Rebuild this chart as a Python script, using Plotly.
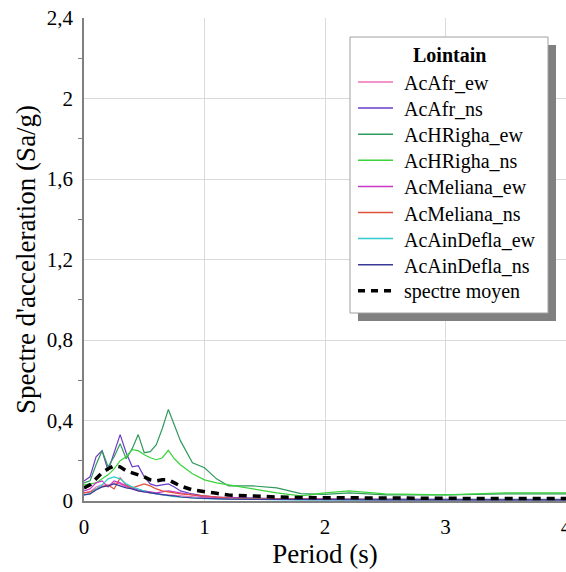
import plotly.graph_objects as go

# Response spectra, far-field records ("Lointain"), 5 % damping
period = [0, 0.05, 0.1, 0.15, 0.2, 0.25, 0.3, 0.35, 0.4, 0.45, 0.5, 0.55, 0.6, 0.65,
          0.7, 0.75, 0.8, 0.9, 1.0, 1.1, 1.2, 1.4, 1.6, 1.8, 2.0, 2.2, 2.5, 3.0, 3.5, 4.0]

acafr_ew = [0.04, 0.045, 0.07, 0.08, 0.075, 0.09, 0.085, 0.07, 0.06, 0.05, 0.045, 0.04, 0.035, 0.03,
            0.03, 0.028, 0.025, 0.02, 0.015, 0.012, 0.011, 0.01, 0.009, 0.008, 0.008, 0.007, 0.007, 0.006, 0.006, 0.006]
acafr_ns = [0.10, 0.12, 0.22, 0.25, 0.15, 0.24, 0.33, 0.24, 0.17, 0.175, 0.12, 0.085, 0.075, 0.08,
            0.085, 0.07, 0.05, 0.035, 0.025, 0.02, 0.018, 0.015, 0.012, 0.012, 0.01, 0.01, 0.009, 0.008, 0.008, 0.008]
achrigha_ew = [0.09, 0.10, 0.18, 0.25, 0.17, 0.22, 0.285, 0.21, 0.26, 0.33, 0.24, 0.245, 0.28, 0.36,
               0.455, 0.38, 0.30, 0.19, 0.165, 0.11, 0.075, 0.075, 0.065, 0.037, 0.033, 0.04, 0.03, 0.03, 0.035, 0.035]
achrigha_ns = [0.08, 0.085, 0.09, 0.11, 0.13, 0.16, 0.20, 0.22, 0.255, 0.25, 0.23, 0.215, 0.205, 0.215,
               0.252, 0.21, 0.18, 0.135, 0.105, 0.09, 0.08, 0.06, 0.04, 0.025, 0.04, 0.05, 0.035, 0.03, 0.04, 0.04]
acmeliana_ew = [0.05, 0.06, 0.09, 0.10, 0.07, 0.10, 0.09, 0.075, 0.065, 0.055, 0.05, 0.045, 0.04, 0.045,
                0.05, 0.045, 0.04, 0.03, 0.02, 0.018, 0.015, 0.012, 0.01, 0.009, 0.008, 0.008, 0.007, 0.007, 0.006, 0.006]
acmeliana_ns = [0.04, 0.045, 0.06, 0.07, 0.08, 0.06, 0.115, 0.08, 0.065, 0.075, 0.085, 0.075, 0.06, 0.05,
                0.045, 0.04, 0.035, 0.03, 0.025, 0.02, 0.015, 0.012, 0.01, 0.009, 0.008, 0.008, 0.007, 0.006, 0.006, 0.006]
acaindefla_ew = [0.03, 0.035, 0.06, 0.08, 0.11, 0.12, 0.11, 0.085, 0.07, 0.06, 0.05, 0.04, 0.035, 0.03,
                 0.025, 0.022, 0.02, 0.015, 0.012, 0.01, 0.009, 0.008, 0.007, 0.006, 0.006, 0.005, 0.005, 0.005, 0.005, 0.005]
acaindefla_ns = [0.03, 0.035, 0.055, 0.07, 0.075, 0.085, 0.075, 0.065, 0.06, 0.05, 0.045, 0.04, 0.035, 0.03,
                 0.028, 0.025, 0.02, 0.015, 0.012, 0.01, 0.009, 0.008, 0.007, 0.007, 0.006, 0.006, 0.006, 0.006, 0.006, 0.006]
spectre_moyen = [0.065, 0.08, 0.11, 0.14, 0.16, 0.175, 0.17, 0.15, 0.14, 0.13, 0.12, 0.105, 0.10, 0.105,
                 0.105, 0.09, 0.075, 0.055, 0.045, 0.038, 0.03, 0.024, 0.02, 0.017, 0.016, 0.016, 0.014, 0.012, 0.012, 0.012]

series = [
    ("AcAfr_ew", acafr_ew, "#F070B8"),
    ("AcAfr_ns", acafr_ns, "#6A3CC8"),
    ("AcHRigha_ew", achrigha_ew, "#2F9A5C"),
    ("AcHRigha_ns", achrigha_ns, "#3CD23C"),
    ("AcMeliana_ew", acmeliana_ew, "#C838C8"),
    ("AcMeliana_ns", acmeliana_ns, "#E0503C"),
    ("AcAinDefla_ew", acaindefla_ew, "#30CCD0"),
    ("AcAinDefla_ns", acaindefla_ns, "#3A3A98"),
]
mean_name = "spectre moyen"
legend_title = "Lointain"

y_ticks = [0, 0.4, 0.8, 1.2, 1.6, 2.0, 2.4]
y_labels = ["0", "0,4", "0,8", "1,2", "1,6", "2", "2,4"]
y_minor = [0.2, 0.6, 1.0, 1.4, 1.8, 2.2]
x_ticks = [0, 1, 2, 3, 4]

serif = "Liberation Serif"

fig = go.Figure()
for name, vals, color in series:
    fig.add_trace(go.Scatter(x=period, y=vals, name=name, mode="lines",
                             line=dict(color=color, width=1.2)))
fig.add_trace(go.Scatter(x=period, y=spectre_moyen, name=mean_name, mode="lines",
                         line=dict(color="black", width=3.5, dash="8px,6px")))

W, H = 566, 572
ml, mr, mt, mb = 84, 0, 18, 71
pw, ph = W - ml - mr, H - mt - mb


def px_x(p):
    return (p - ml) / pw


def px_y(p):
    return (H - mb - p) / ph


# legend frame with drop shadow
shapes = [
    dict(type="rect", xref="paper", yref="paper", layer="above",
         x0=px_x(358), x1=px_x(556), y0=px_y(321), y1=px_y(45),
         fillcolor="#808080", line=dict(width=0)),
    dict(type="rect", xref="paper", yref="paper", layer="above",
         x0=px_x(350), x1=px_x(548), y0=px_y(313), y1=px_y(37),
         fillcolor="white", line=dict(color="#A0A0A0", width=1)),
]
annotations = [
    dict(text="<b>%s</b>" % legend_title, xref="paper", yref="paper",
         x=px_x(449), y=px_y(55), xanchor="center", yanchor="middle",
         showarrow=False, font=dict(family=serif, size=20, color="black")),
]

# legend entries: line sample + label
entries = [(name, dict(color=color, width=1.5)) for name, _, color in series]
entries.append((mean_name, dict(color="black", width=3.5, dash="7px,6px")))
row0, step = 82, 26.1
for i, (name, line) in enumerate(entries):
    yc = row0 + i * step
    shapes.append(dict(type="line", xref="paper", yref="paper", layer="above",
                       x0=px_x(358), x1=px_x(393), y0=px_y(yc), y1=px_y(yc), line=line))
    annotations.append(dict(text=name, xref="paper", yref="paper",
                            x=px_x(402), y=px_y(yc + 1), xanchor="left", yanchor="middle",
                            showarrow=False, font=dict(family=serif, size=20, color="black")))

fig.update_layout(
    width=W, height=H,
    margin=dict(l=ml, r=mr, t=mt, b=mb, autoexpand=False),
    paper_bgcolor="white", plot_bgcolor="white",
    font=dict(family=serif, color="black"),
    showlegend=False,
    shapes=shapes,
    annotations=annotations,
    xaxis=dict(range=[0, 4], tickvals=x_ticks, ticktext=[str(v) for v in x_ticks],
               showgrid=True, gridcolor="#DADADA", gridwidth=1,
               showline=True, linecolor="#808080", linewidth=1.5,
               ticks="", zeroline=False, ticklabeloverflow="allow",
               automargin=False, ticklabelstandoff=6,
               tickfont=dict(family=serif, size=21),
               title=dict(text="Period (s)", font=dict(family=serif, size=27), standoff=0)),
    yaxis=dict(range=[0, 2.4], tickvals=y_ticks, ticktext=y_labels,
               showgrid=True, gridcolor="#DADADA", gridwidth=1,
               showline=True, linecolor="#808080", linewidth=1.5,
               ticks="", zeroline=False, automargin=False, ticklabelstandoff=5,
               tickfont=dict(family=serif, size=21),
               minor=dict(tickvals=y_minor, ticks="outside", ticklen=4,
                          tickcolor="#808080", showgrid=False),
               title=dict(text="Spectre d'acceleration (Sa/g)",
                          font=dict(family=serif, size=27), standoff=3)),
)

fig.write_html("out.html", config={"displayModeBar": False})
